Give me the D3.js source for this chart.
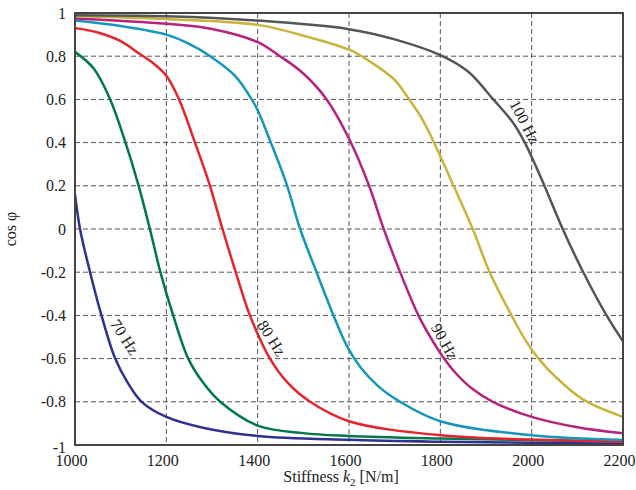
<!DOCTYPE html>
<html>
<head>
<meta charset="utf-8">
<script src="https://cdn.jsdelivr.net/npm/d3@7"></script>
<style>
  body { margin: 0; background: #fff; }
  svg text { font-family: "Liberation Serif", "Times New Roman", serif; fill: #222; }
</style>
</head>
<body>
<div id="chart"></div>
<script>
// stiffness k2 [N/m] vs cos phi, one curve per excitation frequency
const xTicks = [1000, 1200, 1400, 1600, 1800, 2000, 2200];
const yTicks = [1, 0.8, 0.6, 0.4, 0.2, 0, -0.2, -0.4, -0.6, -0.8, -1];

const hz70 = [[1000,0.16],[1011,0],[1033,-0.2],[1058,-0.4],[1088,-0.6],[1115,-0.71],[1146,-0.8],[1200,-0.87],[1280,-0.92],[1400,-0.958],[1600,-0.976],[1800,-0.985],[2000,-0.99],[2200,-0.993]];
const hz75 = [[1000,0.82],[1040,0.745],[1077,0.6],[1109,0.41],[1138,0.21],[1164,0],[1187,-0.2],[1215,-0.4],[1248,-0.6],[1280,-0.71],[1318,-0.8],[1400,-0.91],[1500,-0.945],[1600,-0.958],[1800,-0.97],[2000,-0.978],[2200,-0.982]];
const hz80 = [[1000,0.93],[1050,0.91],[1100,0.87],[1142,0.81],[1170,0.77],[1200,0.71],[1228,0.6],[1261,0.41],[1294,0.21],[1323,0],[1352,-0.2],[1383,-0.4],[1427,-0.6],[1465,-0.71],[1515,-0.8],[1600,-0.89],[1800,-0.955],[2000,-0.975],[2200,-0.985]];
const hz85 = [[1000,0.965],[1100,0.94],[1200,0.90],[1250,0.857],[1296,0.8],[1350,0.71],[1387,0.6],[1400,0.55],[1427,0.41],[1463,0.21],[1493,0],[1529,-0.2],[1566,-0.4],[1595,-0.54],[1625,-0.64],[1665,-0.73],[1712,-0.8],[1800,-0.89],[2000,-0.955],[2200,-0.977]];
const hz90 = [[1000,0.975],[1200,0.95],[1300,0.926],[1400,0.865],[1449,0.8],[1500,0.72],[1551,0.6],[1602,0.41],[1644,0.2],[1676,0],[1712,-0.2],[1752,-0.4],[1778,-0.5],[1805,-0.59],[1835,-0.67],[1870,-0.74],[1915,-0.8],[2000,-0.87],[2100,-0.918],[2200,-0.946]];
const hz95 = [[1000,0.985],[1200,0.972],[1400,0.945],[1500,0.895],[1600,0.83],[1635,0.79],[1700,0.69],[1725,0.62],[1760,0.51],[1795,0.36],[1829,0.2],[1871,0],[1908,-0.2],[1956,-0.4],[1985,-0.51],[2015,-0.6],[2055,-0.69],[2113,-0.79],[2200,-0.87]];
const hz100 = [[1000,0.99],[1200,0.985],[1400,0.965],[1600,0.925],[1700,0.878],[1800,0.805],[1860,0.73],[1916,0.6],[1960,0.49],[1985,0.40],[2026,0.21],[2068,0],[2113,-0.2],[2164,-0.4],[2200,-0.52]];

const curves = [hz70, hz75, hz80, hz85, hz90, hz95, hz100];
const colors = ["#2e3192", "#00784a", "#e5242b", "#1497b8", "#b5237f", "#c8b43c", "#555555"];

// labels sit next to four of the curves: [text, k2, cos phi, angle]
const labels = [["70 Hz", 1109, -0.5, 57], ["80 Hz", 1431, -0.505, 58], ["90 Hz", 1810, -0.52, 61], ["100 Hz", 1985, 0.497, 62]];

const width = 636, height = 490;
const margin = {top: 13, right: 13, bottom: 45, left: 75};

const svg = d3.select("#chart").append("svg")
    .attr("width", width)
    .attr("height", height);

const x = d3.scaleLinear()
    .domain([1000, 2200])
    .range([margin.left, width - margin.right]);

const y = d3.scaleLinear()
    .domain([-1, 1])
    .range([height - margin.bottom, margin.top]);

// dashed grid
svg.append("g")
    .selectAll("line")
    .data(xTicks.slice(1, -1))
    .join("line")
    .attr("x1", d => x(d)).attr("x2", d => x(d))
    .attr("y1", y(1)).attr("y2", y(-1))
    .attr("stroke", "#555")
    .attr("stroke-width", 1)
    .attr("stroke-dasharray", "5,3");

svg.append("g")
    .selectAll("line")
    .data(yTicks.slice(1, -1))
    .join("line")
    .attr("x1", x(1000)).attr("x2", x(2200))
    .attr("y1", d => y(d)).attr("y2", d => y(d))
    .attr("stroke", "#555")
    .attr("stroke-width", 1)
    .attr("stroke-dasharray", "5,3");

// curves
const line = d3.line()
    .x(d => x(d[0]))
    .y(d => y(d[1]))
    .curve(d3.curveCatmullRom.alpha(0.5));

svg.append("g")
    .selectAll("path")
    .data(curves)
    .join("path")
    .attr("d", line)
    .attr("fill", "none")
    .attr("stroke", (d, i) => colors[i])
    .attr("stroke-width", 2.5);

// frame
svg.append("rect")
    .attr("x", x(1000))
    .attr("y", y(1))
    .attr("width", x(2200) - x(1000))
    .attr("height", y(-1) - y(1))
    .attr("fill", "none")
    .attr("stroke", "#444")
    .attr("stroke-width", 2);

// axes (labels only, frame drawn above)
const xAxis = svg.append("g")
    .attr("transform", `translate(-4,${y(-1)})`)
    .call(d3.axisBottom(x).tickValues(xTicks).tickSize(0).tickPadding(10).tickFormat(d3.format("d")));
const yAxis = svg.append("g")
    .attr("transform", `translate(${x(1000)},0)`)
    .call(d3.axisLeft(y).tickValues(yTicks).tickSize(0).tickPadding(9)
        .tickFormat(d => d === 0 ? "0" : String(+d.toFixed(1))));

[xAxis, yAxis].forEach(g => {
    g.select(".domain").remove();
    g.selectAll("text")
        .style("font-family", '"Liberation Serif", serif')
        .style("font-size", "16px")
        .attr("fill", "#222");
});
yAxis.selectAll(".tick text").filter(d => d === -1).attr("dy", "0.45em");

// curve labels
svg.append("g")
    .selectAll("text")
    .data(labels)
    .join("text")
    .attr("transform", d => `translate(${x(d[1])},${y(d[2])}) rotate(${d[3]})`)
    .attr("text-anchor", "middle")
    .attr("dy", "0.35em")
    .style("font-size", "16px")
    .text(d => d[0]);

// axis titles
const xTitle = svg.append("text")
    .attr("x", (x(1000) + x(2200)) / 2 - 8)
    .attr("y", 482)
    .attr("text-anchor", "middle")
    .style("font-size", "16px");
xTitle.append("tspan").text("Stiffness ");
xTitle.append("tspan").style("font-style", "italic").text("k");
xTitle.append("tspan").attr("dy", 4).style("font-size", "11px").text("2");
xTitle.append("tspan").attr("dy", -4).text(" [N/m]");

svg.append("text")
    .attr("transform", `translate(16,${y(0)}) rotate(-90)`)
    .attr("text-anchor", "middle")
    .style("font-size", "16px")
    .text("cos \u03c6");
</script>
</body>
</html>
